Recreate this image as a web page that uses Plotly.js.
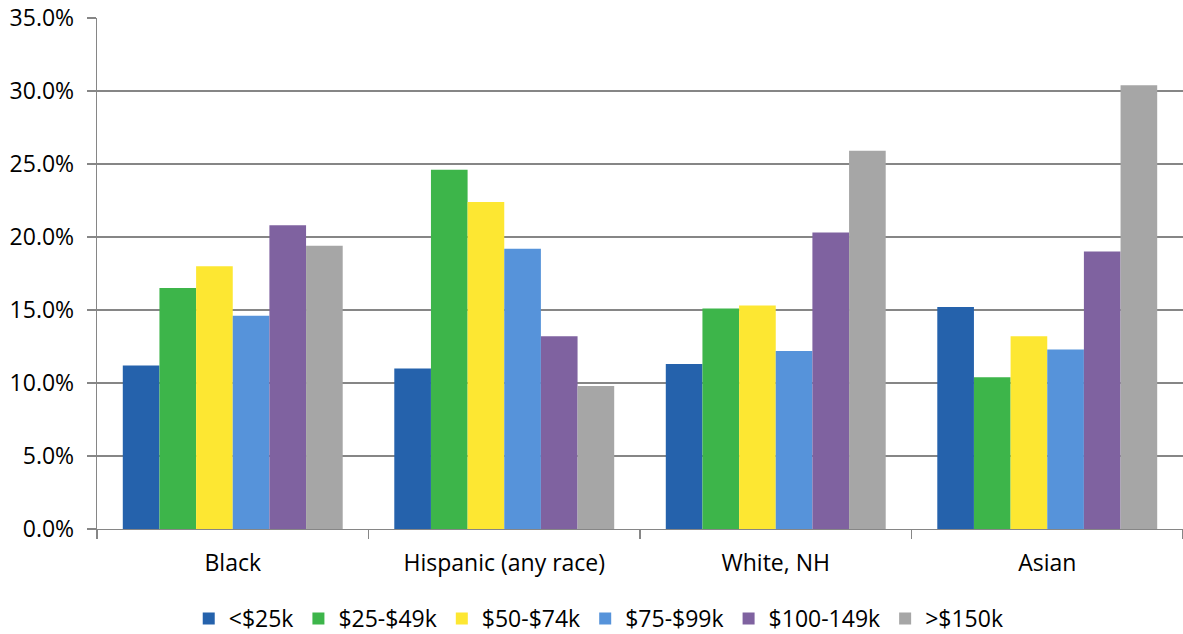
<!DOCTYPE html>
<html>
<head>
<meta charset="utf-8">
<script src="https://cdn.plot.ly/plotly-3.0.1.min.js"></script>
<style>body{margin:0;padding:0;background:#fff}#chart{width:1183px;height:634px}</style>
</head>
<body>
<div id="chart"></div>
<script>
var categories = ["Black", "Hispanic (any race)", "White, NH", "Asian"];
var seriesNames = ["<$25k", "$25-$49k", "$50-$74k", "$75-$99k", "$100-149k", ">$150k"];
var under25 = [11.2, 11.0, 11.3, 15.2];
var from25to49 = [16.5, 24.6, 15.1, 10.4];
var from50to74 = [18.0, 22.4, 15.3, 13.2];
var from75to99 = [14.6, 19.2, 12.2, 12.3];
var from100to149 = [20.8, 13.2, 20.3, 19.0];
var over150 = [19.4, 9.8, 25.9, 30.4];
var yTickVals = [0, 5, 10, 15, 20, 25, 30, 35];
var yTickText = ["0.0%", "5.0%", "10.0%", "15.0%", "20.0%", "25.0%", "30.0%", "35.0%"];
var colors = ["#2562AC", "#3DB54A", "#FDE732", "#5693DA", "#7F62A0", "#A6A6A6"];

var allSeries = [under25, from25to49, from50to74, from75to99, from100to149, over150];
var traces = allSeries.map(function (vals, i) {
  return {
    type: "bar",
    name: seriesNames[i],
    x: categories,
    y: vals,
    marker: {color: colors[i], line: {width: 0}},
    hoverinfo: "skip"
  };
});

var font = {family: "Open Sans, Noto Sans, sans-serif", size: 23, color: "#000"};
var layout = {
  width: 1183, height: 634,
  margin: {l: 97, r: 0, t: 18, b: 105, autoexpand: false},
  paper_bgcolor: "#fff", plot_bgcolor: "#fff",
  barmode: "group", bargap: 0.19, bargroupgap: 0,
  font: font,
  showlegend: true,
  legend: {orientation: "h", x: 0.462, xanchor: "center", y: -0.133, yanchor: "top",
           font: font, itemwidth: 30, traceorder: "normal"},
  xaxis: {
    type: "category", automargin: false,
    showline: true, linecolor: "#868686", linewidth: 1.3,
    ticks: "outside", tickson: "boundaries", ticklen: 9, tickcolor: "#868686", tickwidth: 1.3,
    showgrid: false, tickfont: font, ticklabelstandoff: 13
  },
  yaxis: {
    range: [0, 35], automargin: false,
    tickvals: yTickVals, ticktext: yTickText,
    showline: true, linecolor: "#868686", linewidth: 1.3,
    ticks: "outside", ticklen: 9, tickcolor: "#868686", tickwidth: 1.3,
    showgrid: true, gridcolor: "#868686", gridwidth: 1.3,
    zeroline: false, tickfont: font, ticklabelstandoff: 8
  }
};
Plotly.newPlot("chart", traces, layout, {displayModeBar: false, staticPlot: true});
</script>
</body>
</html>
